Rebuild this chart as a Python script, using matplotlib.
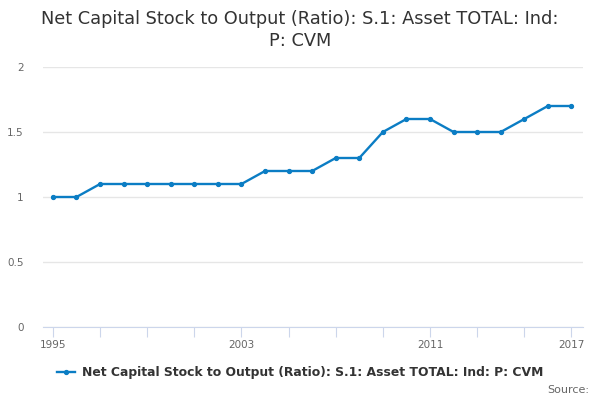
import matplotlib
matplotlib.use("Agg")
import matplotlib.pyplot as plt
from matplotlib.lines import Line2D

years = list(range(1995, 2018))
values = [1.0, 1.0, 1.1, 1.1, 1.1, 1.1, 1.1, 1.1, 1.1, 1.2, 1.2, 1.2, 1.3, 1.3,
          1.5, 1.6, 1.6, 1.5, 1.5, 1.5, 1.6, 1.7, 1.7]
y_ticks = [0, 0.5, 1, 1.5, 2]
y_tick_labels = ["0", "0.5", "1", "1.5", "2"]
x_label_years = [1995, 2003, 2011, 2017]
x_minor_years = list(range(1995, 2018, 2))
title = "Net Capital Stock to Output (Ratio): S.1: Asset TOTAL: Ind:\nP: CVM"
series_name = "Net Capital Stock to Output (Ratio): S.1: Asset TOTAL: Ind: P: CVM"

color = "#0b7dc4"
fig = plt.figure(figsize=(6, 4), dpi=100)
ax = fig.add_axes([0.0717, 0.1825, 0.9003, 0.65])
ax.plot(years, values, color=color, lw=1.7, marker="o", ms=2.8)
ax.set_xlim(1994.58, 2017.5)
ax.set_ylim(0, 2)
ax.set_yticks(y_ticks)
ax.set_yticklabels(y_tick_labels)
ax.set_xticks(x_minor_years)
ax.set_xticklabels([str(y) if y in x_label_years else "" for y in x_minor_years])
ax.grid(axis="y", color="#e6e6e6", lw=1)
ax.set_axisbelow(True)
for s in ["top", "right", "left"]:
    ax.spines[s].set_visible(False)
ax.spines["bottom"].set_color("#ccd6eb")
ax.tick_params(axis="y", length=0, labelcolor="#666666", labelsize=7.5, pad=14)
ax.tick_params(axis="x", length=7, color="#ccd6eb", labelcolor="#666666", labelsize=7.5, pad=2)

fig.text(0.5, 0.975, title, ha="center", va="top", fontsize=12.8, color="#333333", linespacing=1.25)
handle = Line2D([], [], color=color, lw=1.7, marker="o", ms=2.8)
fig.legend([handle], [series_name], loc="center", bbox_to_anchor=(0.5, 0.068), frameon=False,
           prop={"weight": "bold", "size": 8.9}, handlelength=1.5, handletextpad=0.5, labelcolor="#333333")
fig.text(0.982, 0.025, "Source:", ha="right", va="center", fontsize=8, color="#666666")
fig.savefig("out.png", dpi=100)
